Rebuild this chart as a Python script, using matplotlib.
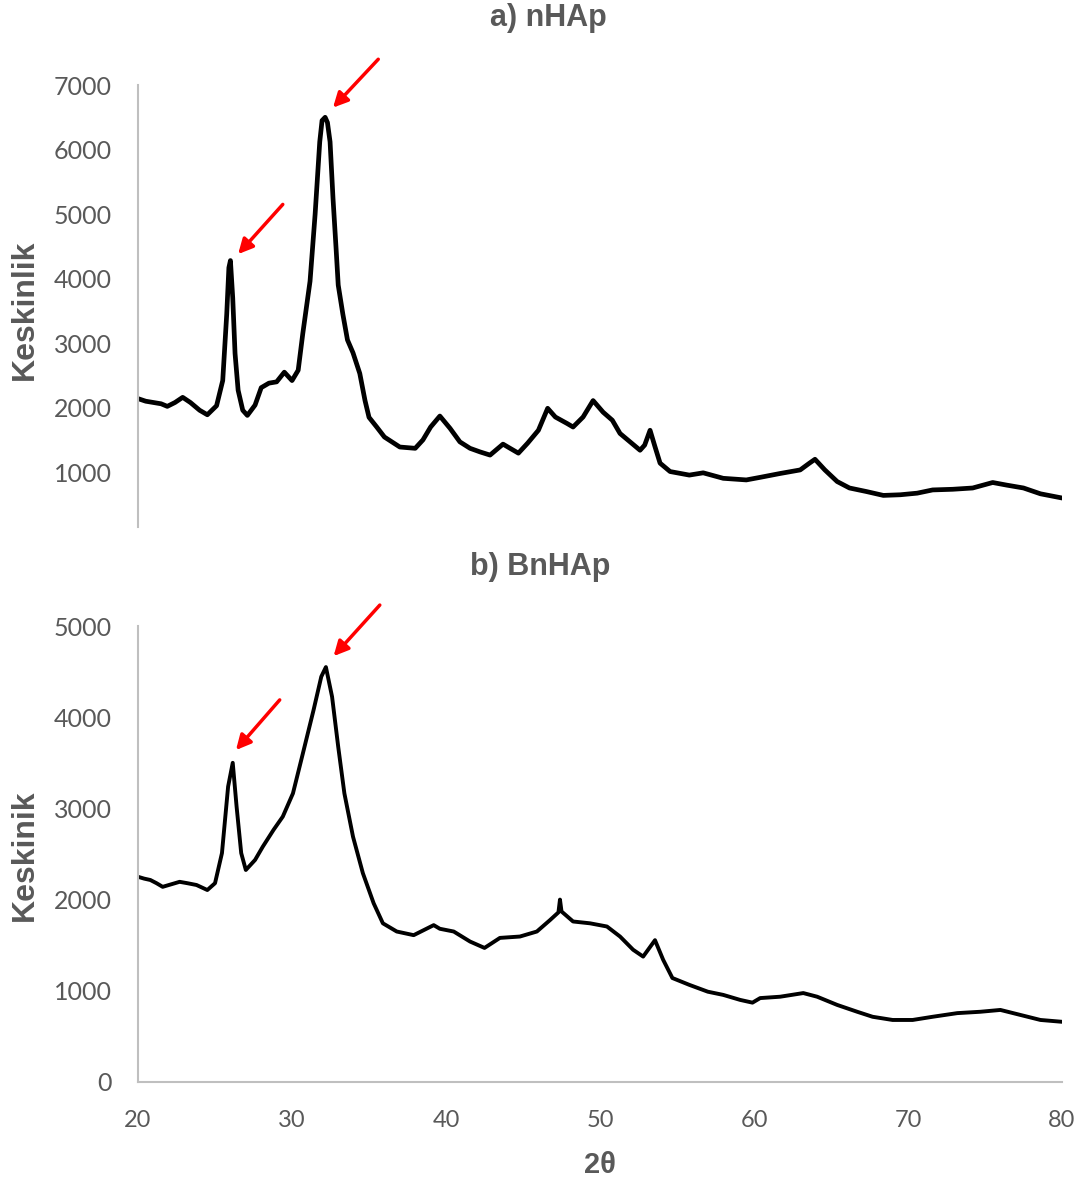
import matplotlib
matplotlib.use("Agg")
import matplotlib.pyplot as plt

# ---------------- data ----------------
two_theta_a = [20.0, 20.5, 21.0, 21.5, 21.9, 22.4, 22.9, 23.4, 24.0, 24.5, 25.1, 25.5,
               25.76, 25.9, 26.0, 26.15, 26.3, 26.5, 26.8, 27.1, 27.6, 28.0, 28.5, 29.0,
               29.5, 30.0, 30.4, 30.7, 31.17, 31.5, 31.8, 31.95, 32.15, 32.3, 32.47, 32.66,
               32.86, 33.0, 33.3, 33.6, 33.96, 34.4, 34.74, 35.0, 35.5, 36.0, 37.0, 38.0,
               38.5, 39.0, 39.6, 40.26, 40.9, 41.56, 42.2, 42.86, 43.7, 44.16, 44.7, 45.3,
               46.0, 46.6, 47.1, 47.86, 48.25, 48.9, 49.55, 50.2, 50.8, 51.3, 51.95, 52.6,
               52.9, 53.25, 53.57, 53.9, 54.55, 55.8, 56.7, 58.0, 59.5, 60.4, 61.7, 63.0,
               63.6, 63.96, 64.6, 65.4, 66.2, 67.3, 68.4, 69.5, 70.6, 71.6, 72.9, 74.2,
               75.5, 76.4, 77.5, 78.6, 80.0]
intensity_a = [2140, 2100, 2080, 2060, 2020, 2080, 2160, 2080, 1960, 1890, 2030, 2420,
               3450, 4170, 4280, 3700, 2840, 2270, 1960, 1880, 2040, 2310, 2380, 2400,
               2550, 2420, 2580, 3150, 3960, 5000, 6120, 6450, 6500, 6420, 6120, 5250,
               4470, 3900, 3450, 3050, 2850, 2530, 2110, 1850, 1700, 1545, 1390, 1370,
               1500, 1700, 1870, 1680, 1470, 1370, 1315, 1265, 1435, 1370, 1295, 1450,
               1650, 1990, 1855, 1755, 1700, 1855, 2110, 1930, 1805, 1600, 1470, 1340,
               1420, 1650, 1395, 1140, 1010, 955, 990, 905, 880, 920, 980, 1035,
               1140, 1200, 1035, 855, 755, 700, 640, 650, 675, 725, 735, 755,
               840, 800, 755, 665, 600]

two_theta_b = [20.0, 20.4, 20.8, 21.2, 21.6, 22.2, 22.7, 23.2, 23.8, 24.5, 25.0, 25.45,
               25.85, 26.15, 26.4, 26.7, 27.0, 27.6, 28.1, 28.8, 29.4, 30.06, 30.7, 31.4,
               31.9, 32.2, 32.6, 33.0, 33.4, 33.96, 34.6, 35.3, 35.9, 36.8, 37.9, 39.2,
               39.6, 40.5, 41.56, 42.5, 43.5, 44.8, 45.9, 46.75, 47.3, 47.4, 47.5, 48.25,
               49.35, 50.45, 51.3, 52.15, 52.8, 53.57, 54.1, 54.7, 55.8, 57.0, 58.0, 59.1,
               59.9, 60.4, 61.7, 63.2, 64.1, 65.4, 66.7, 67.7, 69.0, 70.3, 71.6, 73.2,
               74.7, 76.0, 77.3, 78.6, 80.0]
intensity_b = [2250, 2230, 2215, 2180, 2140, 2170, 2195, 2180, 2160, 2105, 2180, 2510,
               3240, 3500, 3020, 2510, 2325, 2435, 2580, 2765, 2910, 3165, 3600, 4080,
               4445, 4550, 4225, 3675, 3165, 2690, 2290, 1960, 1740, 1650, 1610, 1720,
               1680, 1650, 1540, 1470, 1580, 1595, 1650, 1775, 1860, 2000, 1870, 1760,
               1740, 1705, 1595, 1450, 1375, 1555, 1340, 1140, 1065, 990, 955, 900,
               870, 920, 935, 975, 935, 845, 770, 715, 680, 680, 715, 755,
               770, 790, 735, 680, 660]

yticks_a = [1000, 2000, 3000, 4000, 5000, 6000, 7000]
yticks_b = [0, 1000, 2000, 3000, 4000, 5000]
xticks = [20, 30, 40, 50, 60, 70, 80]

title_a = "a) nHAp"
title_b = "b) BnHAp"
ylabel_a = "Keskinlik"
ylabel_b = "Keskinik"
xlabel = "2θ"

# arrow tails/heads (data coords)
arrows_a = [((29.4, 5150), (26.5, 4380)), ((35.6, 7400), (32.66, 6650))]
arrows_b = [((29.2, 4190), (26.36, 3640)), ((35.7, 5230), (32.7, 4670))]

# ---------------- styling ----------------
plt.rcParams['font.family'] = ['Lato', 'DejaVu Sans']
bold_family = ['Liberation Sans', 'DejaVu Sans']
narrow_family = ['Liberation Sans Narrow', 'Lato', 'DejaVu Sans']
grey_txt = '#595959'
grey_ax = '#bfbfbf'

fig = plt.figure(figsize=(10.86, 11.83), dpi=100)
ax_a = fig.add_axes([0.1271, 0.5545, 0.8508, 0.3736])
ax_b = fig.add_axes([0.1271, 0.0854, 0.8508, 0.3854])

ax_a.plot(two_theta_a, intensity_a, color='black', lw=3.4, solid_joinstyle='round')
ax_b.plot(two_theta_b, intensity_b, color='black', lw=2.8, solid_joinstyle='round')

ax_a.set_xlim(20, 80)
ax_a.set_ylim(150, 7000)
ax_b.set_xlim(20, 80)
ax_b.set_ylim(0, 5000)

for ax in (ax_a, ax_b):
    for s in ('top', 'right'):
        ax.spines[s].set_visible(False)
    ax.spines['left'].set_color(grey_ax)
    ax.spines['left'].set_linewidth(1.5)
    ax.tick_params(axis='y', length=0, pad=19, labelsize=18, labelcolor=grey_txt)

ax_a.spines['bottom'].set_visible(False)
ax_a.set_xticks([])
ax_a.set_yticks(yticks_a)
ax_b.set_yticks(yticks_b)
ax_b.set_xticks(xticks)
ax_b.spines['bottom'].set_color(grey_ax)
ax_b.spines['bottom'].set_linewidth(1.5)
ax_b.tick_params(axis='x', length=0, pad=20, labelsize=17, labelcolor=grey_txt)
for lbl in ax_b.get_xticklabels():
    lbl.set_fontfamily(narrow_family)

for ax, arrs in ((ax_a, arrows_a), (ax_b, arrows_b)):
    for tail, head in arrs:
        ax.annotate('', xy=head, xytext=tail, annotation_clip=False,
                    arrowprops=dict(arrowstyle='-|>', color='#ff0000', lw=2.5,
                                    mutation_scale=22, shrinkA=0, shrinkB=0))

fig.text(0.5046, 0.9848, title_a, ha='center', va='center', fontsize=22,
         fontweight='bold', color=grey_txt, family=bold_family)
fig.text(0.497, 0.5207, title_b, ha='center', va='center', fontsize=22,
         fontweight='bold', color=grey_txt, family=bold_family)
fig.text(0.023, 0.738, ylabel_a, ha='center', va='center', rotation=90,
         fontsize=23, fontweight='bold', color=grey_txt, family=bold_family)
fig.text(0.023, 0.277, ylabel_b, ha='center', va='center', rotation=90,
         fontsize=23, fontweight='bold', color=grey_txt, family=bold_family)
fig.text(0.5525, 0.0152, xlabel, ha='center', va='center', fontsize=21,
         fontweight='bold', color=grey_txt, family=bold_family)

fig.savefig('out.png', dpi=100)
